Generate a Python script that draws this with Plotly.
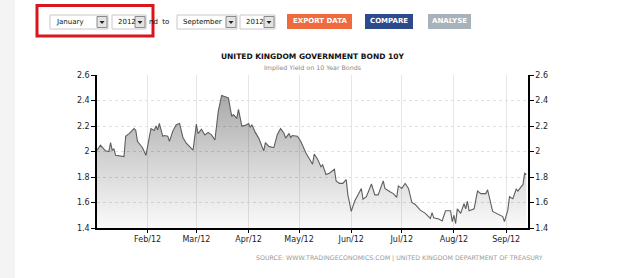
import plotly.graph_objects as go

# ---- data ----
dates = [
    "2012-01-02", "2012-01-04", "2012-01-06", "2012-01-07", "2012-01-09", "2012-01-10", "2012-01-11",
    "2012-01-12", "2012-01-13", "2012-01-18", "2012-01-19", "2012-01-21", "2012-01-24", "2012-01-25",
    "2012-01-26", "2012-01-29", "2012-01-31",
    "2012-02-01", "2012-02-03", "2012-02-05", "2012-02-06", "2012-02-07", "2012-02-08", "2012-02-10",
    "2012-02-11", "2012-02-13", "2012-02-14", "2012-02-16", "2012-02-18", "2012-02-20", "2012-02-22",
    "2012-02-24", "2012-02-28",
    "2012-03-01", "2012-03-02", "2012-03-04", "2012-03-06", "2012-03-08", "2012-03-10", "2012-03-12",
    "2012-03-14", "2012-03-16", "2012-03-18", "2012-03-20", "2012-03-22", "2012-03-23", "2012-03-25",
    "2012-03-26", "2012-03-28", "2012-03-30",
    "2012-04-01", "2012-04-02", "2012-04-03", "2012-04-05", "2012-04-07", "2012-04-10", "2012-04-11",
    "2012-04-13", "2012-04-16", "2012-04-18", "2012-04-20", "2012-04-22", "2012-04-23", "2012-04-25",
    "2012-04-26", "2012-04-27", "2012-04-30",
    "2012-05-02", "2012-05-05", "2012-05-09", "2012-05-10", "2012-05-12", "2012-05-14", "2012-05-15",
    "2012-05-17", "2012-05-19", "2012-05-22", "2012-05-23", "2012-05-25", "2012-05-27", "2012-05-29",
    "2012-05-30",
    "2012-06-01", "2012-06-03", "2012-06-07", "2012-06-08", "2012-06-10", "2012-06-13", "2012-06-15",
    "2012-06-17", "2012-06-20", "2012-06-21", "2012-06-24", "2012-06-26", "2012-06-28", "2012-06-29",
    "2012-07-01", "2012-07-03", "2012-07-05", "2012-07-07", "2012-07-09", "2012-07-12", "2012-07-15",
    "2012-07-18", "2012-07-19", "2012-07-20", "2012-07-23", "2012-07-25", "2012-07-27", "2012-07-30",
    "2012-07-31",
    "2012-08-01", "2012-08-02", "2012-08-03", "2012-08-05", "2012-08-07", "2012-08-08", "2012-08-09",
    "2012-08-10", "2012-08-13", "2012-08-15", "2012-08-17", "2012-08-20", "2012-08-21", "2012-08-24",
    "2012-08-27", "2012-08-30", "2012-08-31",
    "2012-09-02", "2012-09-03", "2012-09-05", "2012-09-07", "2012-09-08", "2012-09-10", "2012-09-11",
    "2012-09-12", "2012-09-13",
]
yields = [
    2.01, 2.05, 2.02, 2.005, 2.00, 2.07, 2.01, 2.02, 1.97, 1.96, 2.12, 2.14, 2.18, 2.165, 2.08, 2.03, 1.97,
    2.05, 2.18, 2.165, 2.20, 2.17, 2.22, 2.12, 2.125, 2.12, 2.08, 2.16, 2.21, 2.22, 2.11, 2.065, 2.01,
    2.215, 2.14, 2.175, 2.13, 2.15, 2.13, 2.09, 2.315, 2.44, 2.43, 2.42, 2.275, 2.29, 2.26, 2.33, 2.20, 2.205,
    2.22, 2.19, 2.21, 2.15, 2.105, 2.005, 2.07, 2.04, 2.03, 2.13, 2.18, 2.145, 2.105, 2.14, 2.11, 2.125, 2.12,
    2.08, 1.99, 1.90, 1.98, 1.94, 1.88, 1.895, 1.82, 1.83, 1.86, 1.77, 1.75, 1.75, 1.78, 1.66,
    1.53, 1.61, 1.71, 1.625, 1.645, 1.745, 1.66, 1.66, 1.77, 1.71, 1.685, 1.67, 1.64, 1.73,
    1.71, 1.75, 1.71, 1.60, 1.585, 1.54, 1.515, 1.475, 1.52, 1.48, 1.47, 1.455, 1.535, 1.535, 1.45,
    1.50, 1.435, 1.55, 1.515, 1.59, 1.55, 1.61, 1.535, 1.55, 1.69, 1.67, 1.67, 1.70, 1.53, 1.51, 1.49, 1.45,
    1.54, 1.645, 1.63, 1.705, 1.69, 1.725, 1.74, 1.83, 1.82,
]
title_text = "UNITED KINGDOM GOVERNMENT BOND 10Y"
subtitle_text = "Implied Yield on 10 Year Bonds"
source_text = "SOURCE: WWW.TRADINGECONOMICS.COM | UNITED KINGDOM DEPARTMENT OF TREASURY"
y_range = [1.4, 2.6]
x_range = ["2012-01-01 23:00", "2012-09-14 00:00"]

# ---- page geometry ----
W, H = 625, 278
L, R, T, B = 97, 97, 75, 50
PW, PH = W - L - R, H - T - B


def xp(px):
    return (px - L) / PW


def yp(py):
    return (H - B - py) / PH


FONT = "DejaVu Sans"

fig = go.Figure()
fig.add_trace(go.Scatter(
    x=dates, y=yields, mode="lines",
    line=dict(color="#5e5e5e", width=1.1),
    fill="tozeroy",
    fillgradient=dict(type="vertical", start=1.4, stop=2.45,
                      colorscale=[[0, "rgba(0,0,0,0.02)"], [0.5, "rgba(0,0,0,0.17)"], [1, "rgba(0,0,0,0.34)"]]),
    showlegend=False, hoverinfo="x+y",
))
fig.add_trace(go.Scatter(
    x=[dates[0]], y=[yields[0]], yaxis="y2", mode="markers",
    marker=dict(opacity=0), showlegend=False, hoverinfo="skip",
))

axis_font = dict(family=FONT, size=8, color="#222")
fig.update_layout(
    width=W, height=H,
    margin=dict(l=L, r=R, t=T, b=B, pad=0),
    paper_bgcolor="white", plot_bgcolor="white",
    xaxis=dict(
        type="date", range=x_range, tick0="2012-02-01", dtick="M1", tickformat="%b/%y",
        showgrid=True, gridcolor="#e6e6e6", gridwidth=1,
        showline=True, linecolor="black", linewidth=1.5,
        ticks="outside", ticklen=3, tickcolor="black",
        tickfont=axis_font, zeroline=False,
    ),
    yaxis=dict(
        range=y_range, dtick=0.2, tick0=1.4,
        showgrid=True, gridcolor="#e0e0e0", griddash="dot", gridwidth=1,
        showline=True, linecolor="black", linewidth=1.5,
        ticks="outside", ticklen=4, tickcolor="black",
        tickfont=axis_font, zeroline=False,
    ),
    yaxis2=dict(
        range=y_range, dtick=0.2, tick0=1.4, overlaying="y", side="right",
        showgrid=False, showline=True, linecolor="black", linewidth=1.5,
        ticks="outside", ticklen=4, tickcolor="black",
        tickfont=axis_font, zeroline=False,
    ),
)

shapes = []
annotations = []

# left grey strip of the page
shapes.append(dict(type="rect", xref="paper", yref="paper", x0=xp(0), x1=xp(15), y0=yp(278), y1=yp(0),
                   fillcolor="#f4f4f4", line=dict(width=0), layer="below"))


def dropdown(x0, x1, label):
    shapes.append(dict(type="rect", xref="paper", yref="paper", x0=xp(x0), x1=xp(x1), y0=yp(29), y1=yp(15),
                       fillcolor="white", line=dict(color="#c8c8c8", width=1)))
    shapes.append(dict(type="rect", xref="paper", yref="paper", x0=xp(x1 - 11), x1=xp(x1 - 1), y0=yp(27.5), y1=yp(16.5),
                       fillcolor="#e4e4e4", line=dict(color="#8a8a8a", width=1)))
    cx = x1 - 6
    shapes.append(dict(type="path", xref="paper", yref="paper",
                       path=f"M {xp(cx-2.5)} {yp(21)} L {xp(cx+2.5)} {yp(21)} L {xp(cx)} {yp(24)} Z",
                       fillcolor="#222", line=dict(width=0)))
    annotations.append(dict(text=label, xref="paper", yref="paper", x=xp(x0 + 4), y=yp(22), xanchor="left",
                            yanchor="middle", showarrow=False, font=dict(family=FONT, size=7, color="#111")))


dropdown(50, 108, "January")
dropdown(112, 146, "2012")
dropdown(177, 237, "September")
dropdown(240, 275, "2012")
annotations.append(dict(text="nd  to", xref="paper", yref="paper", x=xp(147), y=yp(22), xanchor="left",
                        yanchor="middle", showarrow=False, font=dict(family=FONT, size=7, color="#111")))


def button(x0, x1, color, label):
    shapes.append(dict(type="rect", xref="paper", yref="paper", x0=xp(x0), x1=xp(x1), y0=yp(29), y1=yp(14),
                       fillcolor=color, line=dict(width=0)))
    annotations.append(dict(text=f"<b>{label}</b>", xref="paper", yref="paper", x=xp((x0 + x1) / 2), y=yp(21.5),
                            xanchor="center", yanchor="middle", showarrow=False,
                            font=dict(family=FONT, size=7, color="white")))


button(287, 352, "#ef6a3d", "EXPORT DATA")
button(365, 413, "#2c4a8c", "COMPARE")
button(428, 471, "#a8b2ba", "ANALYSE")

# red highlight box
shapes.append(dict(type="rect", xref="paper", yref="paper", x0=xp(37), x1=xp(153), y0=yp(36), y1=yp(5.5),
                   fillcolor="rgba(0,0,0,0)", line=dict(color="#d9161d", width=3)))

# titles and source
annotations.append(dict(text=f"<b>{title_text}</b>", xref="paper", yref="paper", x=xp(312), y=yp(56),
                        xanchor="center", yanchor="middle", showarrow=False,
                        font=dict(family=FONT, size=7.5, color="#111")))
annotations.append(dict(text=subtitle_text, xref="paper", yref="paper", x=xp(312), y=yp(67.5),
                        xanchor="center", yanchor="middle", showarrow=False,
                        font=dict(family=FONT, size=6.3, color="#888")))
annotations.append(dict(text=source_text, xref="paper", yref="paper", x=xp(545), y=yp(257.5),
                        xanchor="right", yanchor="middle", showarrow=False,
                        font=dict(family=FONT, size=6.3, color="#9a9a9a")))

fig.update_layout(shapes=shapes, annotations=annotations)
fig.write_html("out.html")
